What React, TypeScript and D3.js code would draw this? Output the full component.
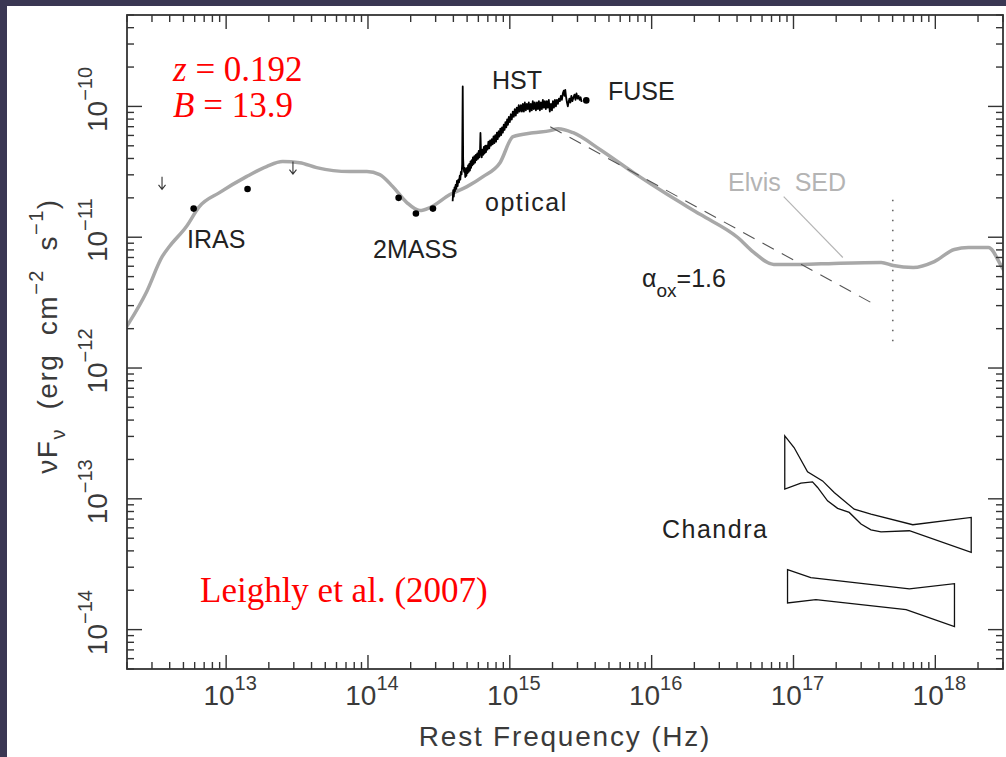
import React, { useRef, useEffect } from 'react';
import * as d3 from 'd3';

const W = 1006;
const H = 757;

// all values are log10(nu / Hz) and log10(nuFnu / erg cm^-2 s^-1)
const elvisLogNu = [12.295, 12.317, 12.437, 12.55, 12.6, 12.72, 12.811, 12.953, 13.143, 13.285, 13.398, 13.518, 13.638, 13.871, 13.992, 14.083, 14.175, 14.274, 14.366, 14.437, 14.578, 14.698, 14.811, 14.931, 15.023, 15.165, 15.285, 15.341, 15.447, 15.638, 15.872, 16.112, 16.345, 16.607, 16.72, 16.861, 17.052, 17.285, 17.618, 17.703, 17.844, 17.993, 18.134, 18.233, 18.375, 18.467, 18.488];
const elvisLogFlux = [-11.689, -11.651, -11.422, -11.147, -11.071, -10.918, -10.766, -10.659, -10.537, -10.46, -10.422, -10.43, -10.468, -10.498, -10.498, -10.521, -10.613, -10.735, -10.796, -10.773, -10.674, -10.613, -10.537, -10.43, -10.231, -10.201, -10.185, -10.17, -10.201, -10.331, -10.506, -10.674, -10.827, -11.002, -11.116, -11.208, -11.208, -11.2, -11.193, -11.216, -11.231, -11.186, -11.094, -11.079, -11.079, -11.224, -11.262];

// IRAS, 2MASS and FUSE photometry
const photLogNu = [12.771, 13.151, 14.216, 14.338, 14.458, 15.539];
const photLogFlux = [-10.781, -10.631, -10.699, -10.819, -10.781, -9.954];

// IRAS upper limits
const limitLogNu = [12.548, 13.471];
const limitLogFlux = [-10.538, -10.422];

// HST spectrum
const hstSpectrum = [
  [14.597, -10.725], [14.601, -10.64], [14.605, -10.69], [14.61, -10.62], [14.613, -10.65], [14.618, -10.6],
  [14.623, -10.63], [14.627, -10.57], [14.632, -10.61], [14.637, -10.56], [14.642, -10.58], [14.647, -10.53],
  [14.651, -10.56], [14.655, -10.5], [14.66, -10.52], [14.664, -10.44], [14.668, -9.847], [14.671, -10.4],
  [14.674, -10.47], [14.678, -10.5], [14.682, -10.47], [14.686, -10.54], [14.69, -10.48], [14.694, -10.53],
  [14.698, -10.47], [14.702, -10.51], [14.706, -10.45], [14.71, -10.5], [14.714, -10.44], [14.719, -10.49],
  [14.723, -10.42], [14.727, -10.47], [14.732, -10.41], [14.736, -10.45], [14.74, -10.39], [14.745, -10.44],
  [14.75, -10.38], [14.755, -10.43], [14.76, -10.37], [14.765, -10.41], [14.77, -10.36], [14.776, -10.4],
  [14.781, -10.34], [14.786, -10.39], [14.79, -10.33], [14.793, -10.203], [14.797, -10.35], [14.802, -10.39],
  [14.807, -10.33], [14.812, -10.37], [14.817, -10.31], [14.822, -10.36], [14.827, -10.3], [14.832, -10.35],
  [14.837, -10.3], [14.843, -10.33], [14.849, -10.27], [14.855, -10.32], [14.861, -10.26], [14.867, -10.3],
  [14.873, -10.25], [14.879, -10.29], [14.885, -10.23], [14.891, -10.28], [14.897, -10.22], [14.903, -10.27],
  [14.909, -10.2], [14.915, -10.25], [14.921, -10.19], [14.927, -10.23], [14.933, -10.17], [14.939, -10.22],
  [14.945, -10.16], [14.951, -10.2], [14.957, -10.14], [14.963, -10.18], [14.969, -10.12], [14.975, -10.16],
  [14.981, -10.1], [14.987, -10.14], [14.993, -10.08], [15.0, -10.12], [15.007, -10.06], [15.014, -10.1],
  [15.021, -10.04], [15.028, -10.08], [15.035, -10.02], [15.042, -10.07], [15.049, -10.01], [15.056, -10.05],
  [15.063, -9.99], [15.07, -10.04], [15.078, -9.99], [15.085, -10.04], [15.092, -9.98], [15.099, -10.04],
  [15.106, -9.97], [15.113, -10.03], [15.12, -9.98], [15.127, -10.02], [15.134, -9.97], [15.141, -10.04],
  [15.148, -9.98], [15.155, -10.03], [15.162, -9.96], [15.169, -10.02], [15.176, -9.97], [15.184, -10.03],
  [15.191, -9.97], [15.198, -10.02], [15.205, -9.96], [15.212, -10.03], [15.219, -9.97], [15.226, -10.02],
  [15.233, -9.95], [15.24, -10.01], [15.247, -9.96], [15.254, -10.02], [15.261, -9.96], [15.268, -10.01],
  [15.275, -9.95], [15.282, -10.04], [15.29, -9.98], [15.297, -10.03], [15.304, -9.96], [15.311, -10.01],
  [15.318, -9.95], [15.325, -10.0], [15.332, -9.95], [15.339, -9.98], [15.346, -9.94], [15.353, -9.96],
  [15.36, -9.92], [15.367, -9.95], [15.374, -9.9], [15.38, -9.88], [15.386, -9.92], [15.391, -9.873],
  [15.397, -9.93], [15.403, -9.97], [15.409, -10.0], [15.414, -9.97], [15.42, -9.94], [15.427, -9.97],
  [15.434, -9.92], [15.441, -9.96], [15.449, -9.93], [15.456, -9.91], [15.463, -9.95], [15.47, -9.9],
  [15.478, -9.94], [15.485, -9.92], [15.492, -9.95], [15.499, -9.93], [15.505, -9.96], [15.509, -9.954],
];

// alpha_ox power law and the 2 keV marker
const aoxLine = [[15.285, -10.155], [17.597, -11.529]];
const twoKevLine = [[17.7, -10.713], [17.7, -11.857]];
const elvisPointer = [[16.931, -10.689], [17.348, -11.155]];

// Chandra bowties (upper edge then lower edge)
const chandraHighTop = [[16.9385, -12.519], [17.004, -12.608], [17.099, -12.794], [17.205, -12.863], [17.287, -12.951], [17.428, -13.079], [17.546, -13.117], [17.841, -13.198], [18.253, -13.142]];
const chandraHighBottom = [[16.9385, -12.926], [17.052, -12.88], [17.134, -12.87], [17.17, -12.913], [17.24, -13.015], [17.311, -13.073], [17.393, -13.104], [17.476, -13.193], [17.546, -13.237], [17.617, -13.252], [17.817, -13.244], [18.253, -13.409]];
const chandraLowTop = [[16.958, -13.542], [17.122, -13.603], [17.817, -13.689], [18.135, -13.649]];
const chandraLowBottom = [[16.958, -13.796], [17.158, -13.771], [17.794, -13.847], [18.135, -13.977]];

const xDecades = [13, 14, 15, 16, 17, 18];
const yDecades = [-14, -13, -12, -11, -10];

const SANS = 'Liberation Sans, Arial, sans-serif';
const SERIF = 'Liberation Serif, Times New Roman, serif';

const App = () => {
  const svgRef = useRef(null);

  useEffect(() => {
    const svg = d3.select(svgRef.current);
    svg.selectAll('*').remove();

    svg.append('rect').attr('width', W).attr('height', H).attr('fill', '#3a3753');
    svg.append('rect').attr('x', 7).attr('y', 6).attr('width', W - 7).attr('height', H - 6).attr('fill', '#ffffff');

    const margin = { top: 15, right: 3, bottom: 88, left: 127 };
    const innerWidth = W - margin.left - margin.right;
    const innerHeight = H - margin.top - margin.bottom;

    const x = d3.scaleLog().domain([2e12, 3e18]).range([0, innerWidth]);
    const y = d3.scaleLog().domain([5e-15, 5e-10]).range([innerHeight, 0]);
    const px = (lv) => x(Math.pow(10, lv));
    const py = (lv) => y(Math.pow(10, lv));

    const chart = svg.append('g').attr('transform', `translate(${margin.left},${margin.top})`);

    svg.append('defs').append('clipPath').attr('id', 'plot-clip')
      .append('rect').attr('width', innerWidth).attr('height', innerHeight);

    const plot = chart.append('g').attr('clip-path', 'url(#plot-clip)');

    const line = d3.line().x((d) => px(d[0])).y((d) => py(d[1]));

    // Elvis SED
    const elvis = elvisLogNu.map((v, i) => [v, elvisLogFlux[i]]);
    plot.append('path')
      .attr('d', line.curve(d3.curveMonotoneX)(elvis))
      .attr('fill', 'none').attr('stroke', '#a8a8a8').attr('stroke-width', 3.5)
      .attr('stroke-linejoin', 'round');
    line.curve(d3.curveLinear);

    // pointer from label
    plot.append('path').attr('d', line(elvisPointer))
      .attr('fill', 'none').attr('stroke', '#b4b4b4').attr('stroke-width', 1.2);

    // alpha_ox dashed line
    plot.append('path').attr('d', line(aoxLine))
      .attr('fill', 'none').attr('stroke', '#555').attr('stroke-width', 1.1)
      .attr('stroke-dasharray', '13,9');

    // dotted vertical line
    plot.append('path').attr('d', line(twoKevLine))
      .attr('fill', 'none').attr('stroke', '#666').attr('stroke-width', 1.6)
      .attr('stroke-dasharray', '1.5,8.5');

    // HST spectrum
    plot.append('path').attr('d', line(hstSpectrum))
      .attr('fill', 'none').attr('stroke', '#000').attr('stroke-width', 1.8)
      .attr('stroke-linejoin', 'round');

    // photometry dots
    plot.selectAll('circle.phot')
      .data(photLogNu.map((v, i) => [v, photLogFlux[i]]))
      .enter().append('circle')
      .attr('class', 'phot')
      .attr('cx', (d) => px(d[0])).attr('cy', (d) => py(d[1]))
      .attr('r', 3.3).attr('fill', '#000');

    // upper limit arrows
    const limits = limitLogNu.map((v, i) => [v, limitLogFlux[i]]);
    const arrows = plot.selectAll('g.limit').data(limits).enter().append('g')
      .attr('class', 'limit')
      .attr('transform', (d) => `translate(${px(d[0])},${py(d[1])})`);
    arrows.append('path').attr('d', 'M0,0V12M-3.5,8L0,12.5L3.5,8')
      .attr('fill', 'none').attr('stroke', '#333').attr('stroke-width', 1.1);

    // Chandra bowties
    const bowties = [[chandraHighTop, chandraHighBottom], [chandraLowTop, chandraLowBottom]];
    bowties.forEach(([top, bottom]) => {
      const outline = top.concat(bottom.slice().reverse());
      plot.append('path').attr('d', line(outline) + 'Z')
        .attr('fill', 'none').attr('stroke', '#111').attr('stroke-width', 1.3)
        .attr('stroke-linejoin', 'miter');
    });

    // ticks
    const xTicks = x.ticks();
    const yTicks = y.ticks();
    const isMajor = (v) => Math.abs(Math.log10(v) - Math.round(Math.log10(v))) < 1e-6;
    const axisColor = '#333';

    const tickG = chart.append('g').attr('stroke', axisColor).attr('stroke-width', 1.4);
    xTicks.forEach((v) => {
      const len = isMajor(v) ? 14 : 7;
      tickG.append('line').attr('x1', x(v)).attr('x2', x(v)).attr('y1', innerHeight).attr('y2', innerHeight - len);
      tickG.append('line').attr('x1', x(v)).attr('x2', x(v)).attr('y1', 0).attr('y2', len);
    });
    yTicks.forEach((v) => {
      const len = isMajor(v) ? 15 : 7;
      tickG.append('line').attr('y1', y(v)).attr('y2', y(v)).attr('x1', 0).attr('x2', len);
      tickG.append('line').attr('y1', y(v)).attr('y2', y(v)).attr('x1', innerWidth).attr('x2', innerWidth - len);
    });

    chart.append('rect').attr('width', innerWidth).attr('height', innerHeight)
      .attr('fill', 'none').attr('stroke', axisColor).attr('stroke-width', 1.8);

    // tick labels
    const xl = chart.append('g').attr('font-family', SANS).attr('fill', '#3a3a3a');
    xDecades.forEach((d) => {
      const t = xl.append('text').attr('x', x(Math.pow(10, d)) + 4).attr('y', innerHeight + 36)
        .attr('text-anchor', 'middle').attr('font-size', 28);
      t.append('tspan').text('10');
      t.append('tspan').attr('dy', -15).attr('font-size', 20).text(String(d));
    });
    yDecades.forEach((d) => {
      const t = xl.append('text')
        .attr('transform', `translate(-20,${y(Math.pow(10, d))}) rotate(-90)`)
        .attr('x', 7).attr('text-anchor', 'middle').attr('font-size', 28);
      t.append('tspan').text('10');
      t.append('tspan').attr('dy', -15).attr('font-size', 20).text('\u2212' + String(-d));
    });

    // axis titles
    chart.append('text')
      .attr('x', innerWidth / 2).attr('y', 746 - margin.top)
      .attr('text-anchor', 'middle').attr('font-family', SANS).attr('font-size', 28)
      .attr('letter-spacing', 1.8).attr('fill', '#3a3a3a')
      .text('Rest Frequency (Hz)');

    const yt = chart.append('text')
      .attr('transform', `translate(-70,${innerHeight / 2 - 6}) rotate(-90)`)
      .attr('text-anchor', 'middle').attr('font-family', SANS).attr('font-size', 28)
      .attr('letter-spacing', 1.5).attr('fill', '#3a3a3a').style('white-space', 'pre');
    yt.append('tspan').text('\u03bdF');
    yt.append('tspan').attr('dy', 8).attr('font-size', 20).text('\u03bd');
    yt.append('tspan').attr('dy', -8).text('  (erg  cm');
    yt.append('tspan').attr('dy', -14).attr('font-size', 20).text('\u22122');
    yt.append('tspan').attr('dy', 14).text('  s');
    yt.append('tspan').attr('dy', -14).attr('font-size', 20).text('\u22121');
    yt.append('tspan').attr('dy', 14).text(')');

    // annotations (screen coordinates relative to the plot)
    const ann = chart.append('g').attr('font-family', SANS).attr('font-size', 25).attr('fill', '#222');
    const label = (tx, ty, s, fill) => ann.append('text')
      .attr('x', tx - margin.left).attr('y', ty - margin.top).attr('fill', fill || '#222')
      .style('white-space', 'pre').text(s);
    label(187, 248, 'IRAS');
    label(373, 258, '2MASS');
    label(492, 89, 'HST');
    label(608, 100, 'FUSE');
    label(485, 211, 'optical').attr('letter-spacing', 1.5);
    label(728, 191, 'Elvis  SED', '#b4b4b4');
    label(662, 538, 'Chandra').attr('letter-spacing', 1.5);

    const aox = ann.append('text').attr('x', 642 - margin.left).attr('y', 287 - margin.top);
    aox.append('tspan').text('\u03b1');
    aox.append('tspan').attr('dy', 10).attr('font-size', 19).text('ox');
    aox.append('tspan').attr('dy', -10).text('=1.6');

    // red info text
    const red = chart.append('g').attr('font-family', SERIF).attr('font-size', 35).attr('fill', '#ff0000');
    const zt = red.append('text').attr('x', 173 - margin.left).attr('y', 81 - margin.top).style('white-space', 'pre');
    zt.append('tspan').attr('font-style', 'italic').text('z');
    zt.append('tspan').text(' = 0.192');
    const bt = red.append('text').attr('x', 173 - margin.left).attr('y', 117 - margin.top).style('white-space', 'pre');
    bt.append('tspan').attr('font-style', 'italic').text('B');
    bt.append('tspan').text(' = 13.9');
    red.append('text').attr('x', 200 - margin.left).attr('y', 602 - margin.top).text('Leighly et al. (2007)');
  }, []);

  return (
    <div style={{ position: 'absolute', left: 0, top: 0 }}>
      <svg ref={svgRef} width={W} height={H} style={{ display: 'block' }}></svg>
    </div>
  );
};

export default App;
